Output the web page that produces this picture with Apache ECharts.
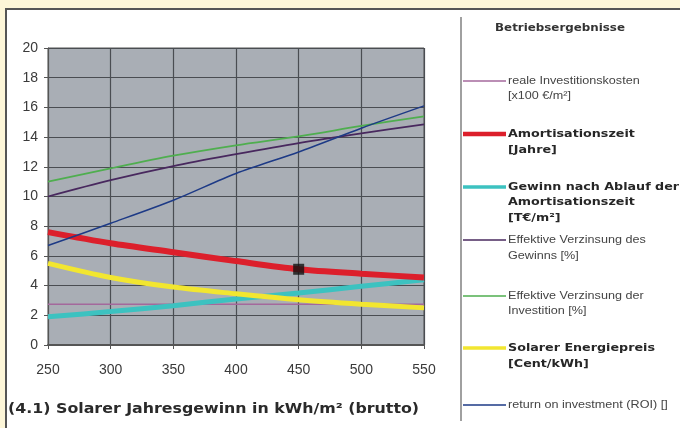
<!DOCTYPE html>
<html>
<head>
<meta charset="utf-8">
<script src="https://cdn.jsdelivr.net/npm/echarts@6/dist/echarts.min.js"></script>
<style>
  html, body { margin: 0; padding: 0; background: #fdf6d8; }
  #chart { width: 680px; height: 428px; }
</style>
</head>
<body>
<div id="chart"></div>
<script>
// Solar yield per m² (x axis)
var xValues = [250, 300, 350, 400, 450, 500, 550];
var yTicks = [0, 2, 4, 6, 8, 10, 12, 14, 16, 18, 20];

// Operating results per yield level
var investCost   = [2.75, 2.75, 2.75, 2.75, 2.75, 2.75, 2.75];
var amortisation = [7.6, 6.85, 6.25, 5.65, 5.1, 4.8, 4.55];
var gewinn       = [1.9, 2.25, 2.65, 3.1, 3.5, 3.95, 4.4];
var verzGewinn   = [10.0, 11.1, 12.05, 12.85, 13.6, 14.25, 14.85];
var verzInvest   = [11.0, 11.9, 12.75, 13.45, 14.05, 14.75, 15.4];
var energiepreis = [5.5, 4.55, 3.9, 3.45, 3.05, 2.75, 2.5];
var roi          = [6.7, 8.2, 9.75, 11.55, 13.0, 14.6, 16.1];

// Highlighted operating point on the amortisation curve
var markedYield = 450;

var legendTitle = 'Betriebsergebnisse';
var axisTitle = '(4.1) Solarer Jahresgewinn in kWh/m² (brutto)';

// Legend order (top to bottom), each with its label lines
var legendItems = [
  { key: 'invest', lines: ['reale Investitionskosten', '[x100 €/m²]'], bold: false },
  { key: 'amort',  lines: ['Amortisationszeit', '[Jahre]'], bold: true },
  { key: 'gewinn', lines: ['Gewinn nach Ablauf der', 'Amortisationszeit', '[T€/m²]'], bold: true },
  { key: 'vgew',   lines: ['Effektive Verzinsung des', 'Gewinns [%]'], bold: false },
  { key: 'vinv',   lines: ['Effektive Verzinsung der', 'Investition [%]'], bold: false },
  { key: 'preis',  lines: ['Solarer Energiepreis', '[Cent/kWh]'], bold: true },
  { key: 'roi',    lines: ['return on investment (ROI) []'], bold: false }
];

var styles = {
  invest: { data: investCost,   color: '#a4689c', width: 1.5, z: 1 },
  gewinn: { data: gewinn,       color: '#3cc2c0', width: 5,   z: 2 },
  preis:  { data: energiepreis, color: '#f2e630', width: 5,   z: 3 },
  amort:  { data: amortisation, color: '#dc1f2b', width: 6,   z: 4 },
  vgew:   { data: verzGewinn,   color: '#48285e', width: 1.8, z: 5 },
  vinv:   { data: verzInvest,   color: '#4fae4f', width: 1.8, z: 6 },
  roi:    { data: roi,          color: '#1d3a86', width: 1.5, z: 7 }
};

function pairs(arr) {
  return xValues.map(function (x, i) { return [x, arr[i]]; });
}

var series = ['invest', 'gewinn', 'preis', 'amort', 'vgew', 'vinv', 'roi'].map(function (k) {
  var s = styles[k];
  return {
    name: k,
    type: 'line',
    data: pairs(s.data),
    smooth: 0.3,
    symbol: 'none',
    z: s.z,
    lineStyle: { color: s.color, width: s.width },
    silent: true
  };
});

var markIdx = xValues.indexOf(markedYield);
series.push({
  name: 'punkt',
  type: 'scatter',
  data: [[markedYield, amortisation[markIdx]]],
  symbol: 'rect',
  symbolSize: 11,
  itemStyle: { color: '#111' },
  z: 10,
  silent: true
});

// Panel frame, divider, axis caption and legend on the right
var graphics = [
  { type: 'rect', shape: { x: 6, y: 9, width: 690, height: 440 },
    style: { fill: '#ffffff', stroke: '#555555', lineWidth: 2 }, z: -10 },
  { type: 'line', shape: { x1: 461, y1: 17, x2: 461, y2: 421 },
    style: { stroke: '#a0a0a0', lineWidth: 2 } },
  { type: 'text', x: 560, y: 28, scaleX: 1.13, style: {
      text: legendTitle, fill: '#333', font: 'bold 10.5px "DejaVu Sans"',
      align: 'center', verticalAlign: 'middle' } },
  { type: 'text', x: 8, y: 409, scaleX: 1.13, style: {
      text: axisTitle, fill: '#2a2a2a', font: 'bold 14px "DejaVu Sans"',
      align: 'left', verticalAlign: 'middle' } }
];
var legendY = [81, 134, 187, 240, 296, 348, 405];
var lineGap = [15, 16, 15.5, 16, 15.5, 16, 15];
legendItems.forEach(function (it, i) {
  var s = styles[it.key];
  var y = legendY[i];
  graphics.push({ type: 'line', shape: { x1: 463, y1: y, x2: 506, y2: y },
    style: { stroke: s.color, lineWidth: Math.max(1.5, s.width - 1.5) } });
  it.lines.forEach(function (t, j) {
    graphics.push({ type: 'text', x: 508, y: y + j * lineGap[i],
      scaleX: it.bold ? 1.21 : 1.2,
      style: {
        text: t, fill: it.bold ? '#262626' : '#444',
        font: it.bold ? 'bold 10.5px "DejaVu Sans"' : '10.5px "Liberation Sans"',
        align: 'left', verticalAlign: 'middle' } });
  });
});

var chart = echarts.init(document.getElementById('chart'), null, { renderer: 'canvas' });
chart.setOption({
  backgroundColor: '#fdf6d8',
  animation: false,
  grid: { left: 48, top: 48, right: 256, bottom: 83, show: true,
          backgroundColor: '#a9aeb5', borderColor: '#555', borderWidth: 1 },
  xAxis: {
    type: 'value', min: xValues[0], max: xValues[xValues.length - 1], interval: 50,
    axisLine: { show: true, lineStyle: { color: '#555', width: 2 } },
    axisTick: { show: true, length: 4, lineStyle: { color: '#555' } },
    axisLabel: { color: '#3a3a3a', fontSize: 14, fontFamily: '"Liberation Sans"', margin: 18 },
    splitLine: { show: true, lineStyle: { color: '#4a4d52', width: 1.2 } }
  },
  yAxis: {
    type: 'value', min: yTicks[0], max: yTicks[yTicks.length - 1], interval: 2,
    axisLine: { show: true, lineStyle: { color: '#555', width: 1 } },
    axisTick: { show: true, length: 4, lineStyle: { color: '#555' } },
    axisLabel: { color: '#3a3a3a', fontSize: 14, fontFamily: '"Liberation Sans"', margin: 10 },
    splitLine: { show: true, lineStyle: { color: '#4a4d52', width: 1.2 } }
  },
  series: series,
  graphic: graphics
});
</script>
</body>
</html>
